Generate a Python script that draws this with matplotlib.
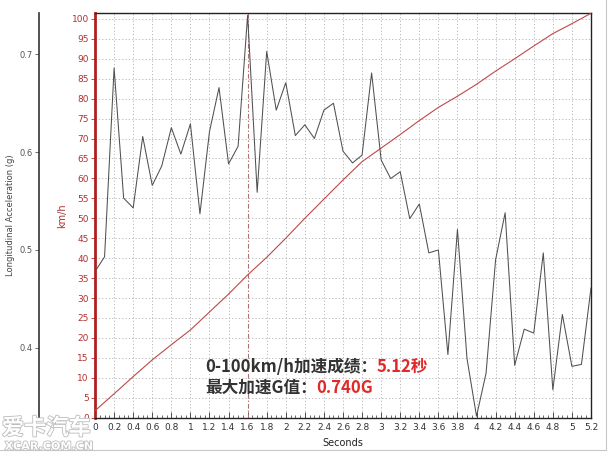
import numpy as np
import matplotlib
matplotlib.use("Agg")
import matplotlib.pyplot as plt
import matplotlib.patheffects as pe
from matplotlib.ticker import MultipleLocator, FixedLocator

plt.rcParams['font.family'] = ['DejaVu Sans']

# acceleration trace, every 0.1 s
t_acc = np.round(np.arange(0, 5.21, 0.1), 2)
acc_g = [0.478, 0.493, 0.686, 0.553, 0.543, 0.616, 0.566, 0.586, 0.625, 0.598,
         0.629, 0.537, 0.621, 0.666, 0.588, 0.606, 0.740, 0.559, 0.703, 0.643,
         0.671, 0.617, 0.628, 0.614, 0.643, 0.650, 0.601, 0.589, 0.597, 0.681,
         0.592, 0.573, 0.580, 0.532, 0.547, 0.497, 0.500, 0.393, 0.521, 0.389,
         0.330, 0.374, 0.490, 0.538, 0.382, 0.419, 0.415, 0.497, 0.357, 0.434,
         0.381, 0.383, 0.461]

# speed trace, every 0.2 s
t_spd = np.round(np.arange(0, 5.21, 0.2), 2)
speed = [1.75, 6.0, 10.3, 14.5, 18.3, 22.0, 26.5, 31.0, 35.8, 40.2, 45.0, 50.0,
         54.8, 59.6, 64.2, 67.6, 71.0, 74.5, 77.8, 80.6, 83.6, 86.9, 90.0, 93.2,
         96.3, 98.8, 101.4]

x_labels = ['0', '0.2', '0.4', '0.6', '0.8', '1', '1.2', '1.4', '1.6', '1.8', '2',
            '2.2', '2.4', '2.6', '2.8', '3', '3.2', '3.4', '3.6', '3.8', '4',
            '4.2', '4.4', '4.6', '4.8', '5', '5.2']
g_ticks = [0.4, 0.5, 0.6, 0.7]
kmh_ticks = list(range(0, 101, 5))

line1 = ('0-100km/h加速成绩：', '5.12秒')
line2 = ('最大加速G值：', '0.740G')

red = '#b03030'
fig = plt.figure(figsize=(6.08, 4.55), dpi=100)
ax = fig.add_axes([0.1563, 0.082, 0.8157, 0.8888])

# km/h axis (red, left at plot edge)
ax.set_xlim(0, 5.2)
ax.set_ylim(0, 101.4)
ax.plot(t_spd, speed, color='#c04848', lw=0.8, zorder=3)
ax.yaxis.set_major_locator(FixedLocator(kmh_ticks))
ax.tick_params(axis='y', colors=red, labelsize=6.5, length=3, width=0.6, pad=1.5)
ax.spines['left'].set_color('#b02020')
ax.spines['left'].set_linewidth(2)
ax.set_ylabel('km/h', color=red, fontsize=7, labelpad=3)

ax.xaxis.set_major_locator(FixedLocator(t_spd))
ax.set_xticklabels(x_labels)
ax.xaxis.set_minor_locator(MultipleLocator(0.05))
ax.tick_params(axis='x', which='major', labelsize=6.5, colors='#333333',
               direction='in', length=4, width=0.6, pad=4)
ax.tick_params(axis='x', which='minor', direction='in', length=2.5, width=0.5,
               colors='#333333')
ax.set_xlabel('Seconds', fontsize=7, color='#222222', labelpad=4)
for s in ['top', 'right', 'bottom']:
    ax.spines[s].set_color('#222222')
    ax.spines[s].set_linewidth(1.0)

ax.grid(True, which='major', color='#b0b0b0', linestyle=(0, (1.5, 2.5)), lw=0.6)
ax.axvline(1.6, color='#b07070', linestyle=(0, (4, 2, 1, 2)), lw=0.8, zorder=2)

# acceleration axis, detached on the left
ax2 = ax.twinx()
ax2.set_ylim(0.3285, 0.742)
ax2.plot(t_acc, acc_g, color='#505050', lw=0.75, zorder=4)
ax2.yaxis.tick_left()
ax2.yaxis.set_label_position('left')
ax2.spines['left'].set_position(('outward', 40))
ax2.spines['left'].set_visible(True)
ax2.spines['left'].set_color('#333333')
ax2.spines['left'].set_linewidth(1.2)
for s in ['top', 'right', 'bottom']:
    ax2.spines[s].set_visible(False)
ax2.yaxis.set_major_locator(FixedLocator(g_ticks))
ax2.tick_params(axis='y', labelsize=6, colors='#555555', length=3, width=0.6, pad=2)
ax2.set_ylabel('Longitudinal Acceleration (g)', fontsize=6, color='#444444',
               labelpad=3)

# annotation with coloured numbers
cjk = ['Noto Sans CJK SC', 'DejaVu Sans']
fig.canvas.draw()
r = fig.canvas.get_renderer()
for (a, b), y in [(line1, 0.183), (line2, 0.137)]:
    t1 = fig.text(0.337, y, a, fontsize=12, fontweight='bold', color='#333333',
                  family=cjk)
    bb = t1.get_window_extent(renderer=r)
    fig.text(bb.x1 / fig.bbox.width, y, b, fontsize=12, fontweight='bold',
             color='#e02a2a', family=cjk)

# watermark
outline = [pe.withStroke(linewidth=1.2, foreground='#bcbcbc')]
fig.text(0.003, 0.045, '爱卡汽车', fontsize=16, color='white', family=cjk,
         fontweight='bold', path_effects=outline, zorder=5)
fig.text(0.008, 0.012, 'XCAR.COM.CN', fontsize=8, color='white',
         fontweight='bold', path_effects=outline, zorder=5)

# thin outer frame
fig.add_artist(plt.Line2D([0, 0.997], [0.011, 0.011], color='#c8c8c8', lw=0.8))
fig.add_artist(plt.Line2D([0.997, 0.997], [0.011, 1], color='#c8c8c8', lw=0.8))

fig.savefig('out.png', dpi=100)
